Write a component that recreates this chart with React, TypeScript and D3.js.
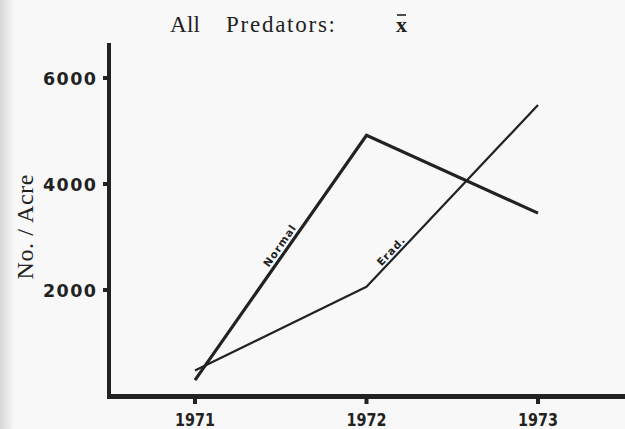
import React from "react";
import * as d3 from "d3";

const years = [1971, 1972, 1973];
const normal = [300, 4920, 3450];
const erad = [480, 2060, 5490];
const yTicks = [2000, 4000, 6000];
const title = "All Predators:";
const yLabel = "No. / Acre";

const W = 625;
const H = 429;
const ink = "#222";
const sans = "'DejaVu Sans', Lato, sans-serif";
const serif = "'Liberation Serif', 'DejaVu Serif', serif";

export default function App() {
  const x = d3.scaleLinear().domain([1971, 1973]).range([195, 538]);
  const y = d3.scaleLinear().domain([0, 6000]).range([396, 78]);
  const line = d3
    .line<number>()
    .x((_, i) => x(years[i]))
    .y((d) => y(d));

  const segLabel = (
    vals: number[],
    i0: number,
    frac: number,
    off: number,
    text: string,
    len: number
  ) => {
    const x0 = x(years[i0]);
    const y0 = y(vals[i0]);
    const x1 = x(years[i0 + 1]);
    const y1 = y(vals[i0 + 1]);
    const dx = x1 - x0;
    const dy = y1 - y0;
    const L = Math.hypot(dx, dy);
    const ux = dx / L;
    const uy = dy / L;
    const px = uy;
    const py = -ux;
    const cx = x0 + dx * frac + px * off;
    const cy = y0 + dy * frac + py * off;
    const ang = (Math.atan2(dy, dx) * 180) / Math.PI;
    return (
      <text
        x={0}
        y={0}
        transform={`translate(${cx},${cy}) rotate(${ang})`}
        textAnchor="middle"
        fontFamily={sans}
        fontWeight={700}
        fontSize={10.5}
        fill={ink}
        textLength={len}
        lengthAdjust="spacing"
      >
        {text}
      </text>
    );
  };

  const [t1, t2] = title.split(" ");

  return (
    <svg width={W} height={H} style={{ position: "absolute", left: 0, top: 0 }}>
      <defs>
        <linearGradient id="edge" x1="0" x2="1" y1="0" y2="0">
          <stop offset="0" stopColor="#d6d6d6" />
          <stop offset="1" stopColor="#f8f8f8" />
        </linearGradient>
      </defs>
      <rect x={0} y={0} width={W} height={H} fill="#f8f8f8" />
      <rect x={0} y={0} width={14} height={H} fill="url(#edge)" />

      {/* title */}
      <text x={170} y={32} fontFamily={serif} fontSize={23} fill={ink}>
        <tspan x={170} textLength={30} lengthAdjust="spacing">
          {t1}
        </tspan>
        <tspan x={226} textLength={109} lengthAdjust="spacing">
          {t2}
        </tspan>
      </text>
      <text
        x={401.5}
        y={32}
        textAnchor="middle"
        fontFamily={serif}
        fontWeight={700}
        fontSize={22}
        fill={ink}
      >
        x
      </text>
      <line x1={397} x2={406} y1={15} y2={15} stroke={ink} strokeWidth={1.6} />

      {/* y label */}
      <text
        transform={`translate(33,227) rotate(-90)`}
        textAnchor="middle"
        fontFamily={serif}
        fontSize={24}
        fill={ink}
        textLength={105}
        lengthAdjust="spacing"
      >
        {yLabel}
      </text>

      {/* axes */}
      <line x1={109} x2={109} y1={43} y2={399} stroke={ink} strokeWidth={4} />
      <line x1={107} x2={W} y1={396.5} y2={396.5} stroke={ink} strokeWidth={5} />

      {yTicks.map((t) => (
        <g key={t}>
          <line x1={103} x2={109} y1={y(t)} y2={y(t)} stroke={ink} strokeWidth={4} />
          <text
            x={96}
            y={y(t) + 6.5}
            textAnchor="end"
            fontFamily={sans}
            fontWeight={700}
            fontSize={17.5}
            fill={ink}
            textLength={53}
            lengthAdjust="spacing"
          >
            {t}
          </text>
        </g>
      ))}

      {years.map((yr) => (
        <g key={yr}>
          <line x1={x(yr)} x2={x(yr)} y1={396} y2={404} stroke={ink} strokeWidth={4} />
          <text
            x={x(yr)}
            y={426}
            textAnchor="middle"
            fontFamily={sans}
            fontWeight={700}
            fontSize={17}
            fill={ink}
            textLength={40}
            lengthAdjust="spacingAndGlyphs"
          >
            {yr}
          </text>
        </g>
      ))}

      {/* series */}
      <path d={line(normal) || ""} fill="none" stroke={ink} strokeWidth={3.2} strokeLinejoin="miter" />
      <path d={line(erad) || ""} fill="none" stroke={ink} strokeWidth={2.2} strokeLinejoin="round" />

      {segLabel(normal, 0, 0.53, 4, "Normal", 48)}
      {segLabel(erad, 1, 0.17, 3, "Erad.", 35)}
    </svg>
  );
}
